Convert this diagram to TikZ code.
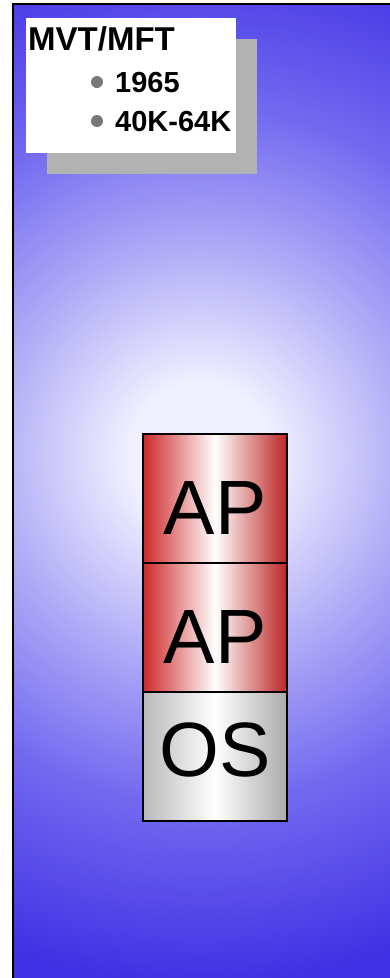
\documentclass[tikz,border=0pt]{standalone}
\usepackage{fontspec}
\setmainfont{Liberation Sans}
\definecolor{glowA}{RGB}{240,240,255}
\definecolor{glowB}{RGB}{172,167,246}
\definecolor{glowC}{RGB}{115,105,240}
\definecolor{glowD}{RGB}{64,50,228}
\definecolor{apred}{RGB}{204,40,40}
\definecolor{osgray}{RGB}{185,185,185}
\definecolor{shadowgray}{RGB}{178,178,178}
\definecolor{dotgray}{RGB}{120,120,120}
\pgfdeclareradialshading{slideglow}{\pgfpointorigin}{color(0bp)=(glowA); color(3bp)=(glowA); color(9bp)=(glowB); color(14.5bp)=(glowC); color(22bp)=(glowD); color(50bp)=(glowD)}
\begin{document}
\begin{tikzpicture}[x=1pt,y=-1pt,
  memblock/.style={draw=black,line width=1.5pt,minimum width=144pt,minimum height=129pt,
    inner sep=0pt,outer sep=0pt,text depth=0pt,font=\fontsize{77}{80}\selectfont},
  apblock/.style={memblock,left color=apred,right color=apred!92!black,middle color=white,text height=71pt},
  osblock/.style={memblock,left color=osgray,right color=osgray!92!black,middle color=white,text height=40pt},
  titletext/.style={anchor=base west,inner sep=0pt,font=\fontsize{33}{36}\selectfont\bfseries},
  itemtext/.style={anchor=base west,inner sep=0pt,font=\fontsize{29}{32}\selectfont\bfseries},
  dot/.style={circle,fill=dotgray,minimum size=12pt,inner sep=0pt}]
\useasboundingbox (0,0) rectangle (390,978);

% slide background
\begin{scope}
\clip (13,4) rectangle (390,978);
\shade[shading=slideglow] (200,455) circle[radius=600];
\end{scope}
\draw[line width=2.5pt] (13,978)--(13,4)--(390,4);

% label card
\fill[shadowgray] (47,39) rectangle (257,174);
\fill[white] (26,18) rectangle (236,153);
\node[titletext] (title) at (28,50) {MVT/MFT};
\node[dot] (dot1) at (97,82) {};
\node[itemtext] (year) at (115,92) {1965};
\node[dot] (dot2) at (97,121) {};
\node[itemtext] (size) at (115,131) {40K-64K};

% memory
\node[apblock] (ap1) at (215,498.5) {AP};
\node[apblock] (ap2) at (215,627.5) {AP};
\node[osblock] (os) at (215,756.5) {OS};

\end{tikzpicture}
\end{document}
